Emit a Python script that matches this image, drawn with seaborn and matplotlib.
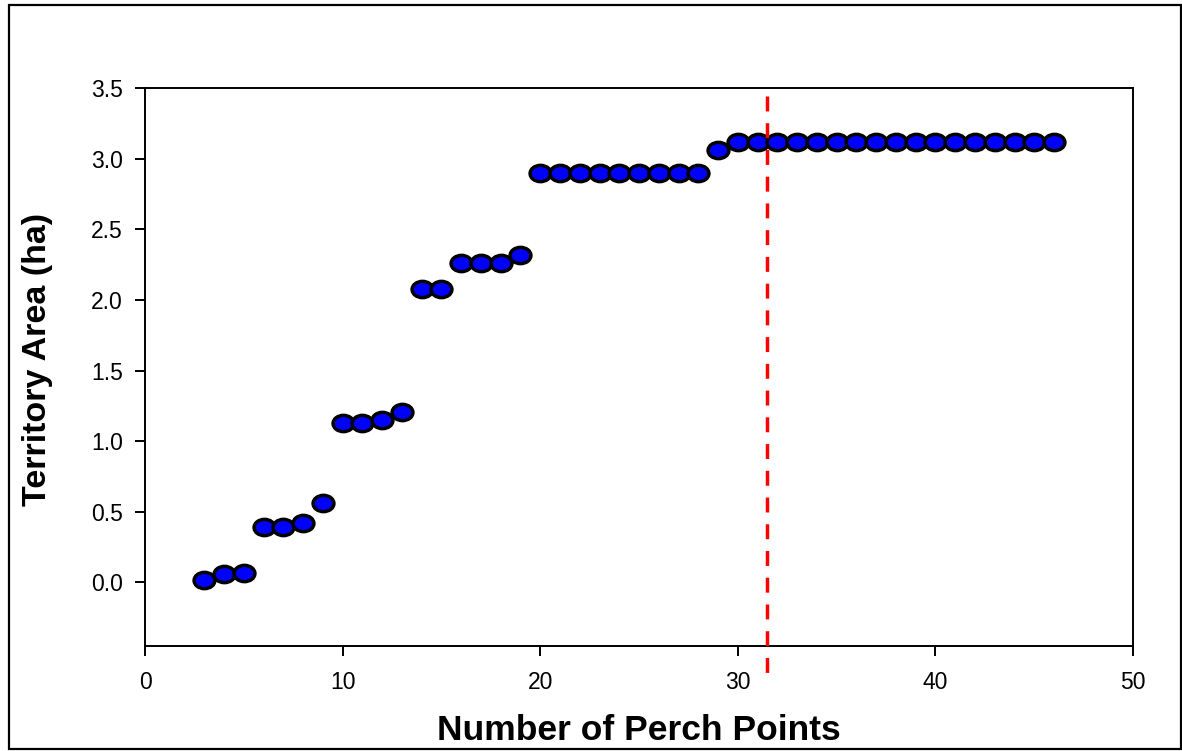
import matplotlib

matplotlib.use("Agg")

import matplotlib.pyplot as plt
import pandas as pd
import seaborn as sns
from matplotlib.markers import MarkerStyle
from matplotlib.patches import Rectangle
from matplotlib.path import Path
from matplotlib.transforms import Affine2D

# data
perch_points = list(range(3, 47))
territory_area = [
    0.02, 0.06, 0.07,
    0.39, 0.39, 0.42, 0.56,
    1.13, 1.13, 1.15, 1.21,
    2.08, 2.08,
    2.26, 2.26, 2.26, 2.32,
    2.90, 2.90, 2.90, 2.90, 2.90, 2.90, 2.90, 2.90, 2.90,
    3.06,
    3.12, 3.12, 3.12, 3.12, 3.12, 3.12, 3.12, 3.12, 3.12,
    3.12, 3.12, 3.12, 3.12, 3.12, 3.12, 3.12, 3.12,
]
cutoff_x = 31.5
cutoff_span = (3.44, -0.64)
x_ticks = [0, 10, 20, 30, 40, 50]
y_ticks = [0.0, 0.5, 1.0, 1.5, 2.0, 2.5, 3.0, 3.5]

df = pd.DataFrame({"perch": perch_points, "area": territory_area})

sns.set_theme(style="white")
plt.rcParams["font.family"] = ["Liberation Sans", "DejaVu Sans"]
plt.rcParams["text.color"] = "black"
plt.rcParams["axes.labelcolor"] = "black"

fig = plt.figure(figsize=(11.82, 7.51), dpi=100)
ax = fig.add_axes([0.1227, 0.1398, 0.8359, 0.7430])

# markers in the source are slightly wider than tall
ellipse = Path.unit_circle().transformed(Affine2D().scale(1.28, 1.0))
sns.scatterplot(
    data=df, x="perch", y="area", ax=ax,
    marker=MarkerStyle(ellipse), s=225,
    color="#0000ff", edgecolor="black", linewidth=2.5, zorder=2,
)

ax.plot([cutoff_x, cutoff_x], list(cutoff_span), color="#ff0000", lw=2.5,
        dashes=(4.3, 3.4), clip_on=False, zorder=3)

ax.set_xlim(0, 50)
ax.set_ylim(-0.45, 3.5)
ax.set_xticks(x_ticks)
ax.set_yticks(y_ticks)
ax.set_yticklabels([f"{v:.1f}" for v in y_ticks])

for side in ["left", "bottom", "top", "right"]:
    ax.spines[side].set_visible(True)
    ax.spines[side].set_color("black")
    ax.spines[side].set_linewidth(1.4)

ax.tick_params(axis="both", which="both", direction="out", length=7, width=1.4,
               colors="black", labelcolor="black", labelsize=16.5, top=False,
               right=False, bottom=True, left=True)
ax.tick_params(axis="x", pad=11)
ax.tick_params(axis="y", pad=9)

ax.set_xlabel("Number of Perch Points", fontsize=25.5, fontweight="bold",
              va="center", color="black")
ax.set_ylabel("Territory Area (ha)", fontsize=24.5, fontweight="bold",
              va="center", color="black")
ax.xaxis.set_label_coords(0.5, -0.152)
ax.yaxis.set_label_coords(-0.109, 0.514)

# outer frame round the whole figure
fig.patches.append(Rectangle((0.0076, 0.002), 0.9916, 0.992, transform=fig.transFigure,
                             fill=False, edgecolor="black", linewidth=1.6))

fig.savefig("out.png", dpi=100)
